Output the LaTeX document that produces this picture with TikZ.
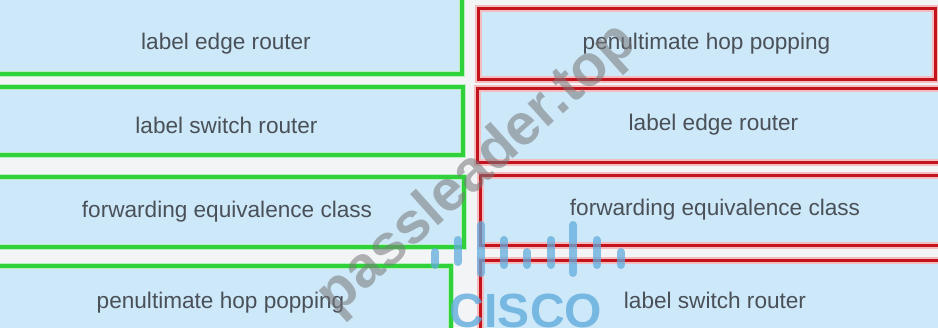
\documentclass[tikz,border=0pt]{standalone}
\usepackage{fontspec}
\setmainfont{Liberation Sans}
\usetikzlibrary{positioning}

\definecolor{boxblue}{HTML}{CDE8F8}
\definecolor{okgreen}{HTML}{30D23B}
\definecolor{halogreen}{HTML}{B8EFBE}
\definecolor{badred}{HTML}{C3141D}
\definecolor{halored}{HTML}{F3BDBF}
\definecolor{txtgray}{HTML}{4A5058}
\definecolor{ciscoblue}{HTML}{62ACDD}
\definecolor{gapgray}{HTML}{F2F4F5}

\begin{document}
\begin{tikzpicture}[x=1pt, y=-1pt,
	answer/.style={rectangle, inner sep=0pt, fill=boxblue, text=txtgray, font=\fontsize{22.6}{26}\selectfont},
	goodbox/.style={answer, postaction={draw=halogreen, line width=5.5pt}, postaction={draw=okgreen, line width=3.4pt}},
	badbox/.style={answer, postaction={draw=halored, line width=7pt}, postaction={draw=badred, line width=3pt}},
	ciscobar/.style={ciscoblue, opacity=0.75, line width=8pt, line cap=round}]
\useasboundingbox (0,0) rectangle (938,327);
\clip (0,0) rectangle (938,327);
\fill[gapgray] (0,0) rectangle (938,327);

% left column (green)
\node[goodbox, minimum width=472pt, minimum height=78pt, text height=33pt] (lft1) at (226,35) {label edge router};
\node[goodbox, minimum width=473pt, minimum height=68pt, text height=25pt] (lft2) at (226.5,121) {label switch router};
\node[goodbox, minimum width=474pt, minimum height=70pt] (lft3) at (227,212) {forwarding equivalence class};
\node[goodbox, minimum width=461pt, minimum height=74pt] (lft4) at (220.5,303) {penultimate hop popping};

% right column (red)
\node[badbox, minimum width=457pt, minimum height=71pt] (rgt1) at (706.5,43.5) {penultimate hop popping};
\node[badbox, minimum width=473pt, minimum height=74pt] (rgt2) at (713.5,125) {label edge router};
\node[badbox, minimum width=470pt, minimum height=70pt] (rgt3) at (715,210) {forwarding equivalence class};
\node[badbox, minimum width=470pt, minimum height=80pt] (rgt4) at (715,300) {label switch router};

% watermark
\node[rotate=41.8, text=gray!85!txtgray, opacity=0.55, font=\bfseries\fontsize{58}{60}\selectfont] (wmark) at (478,170) {passleader.top};
\foreach \bx/\btop/\bbot in {435/252/265, 458/240/262, 481/225/273, 504/240/265, 527/252/265, 551/240/265, 573/225/273, 597/240/265, 621/252/265}
	\draw[ciscobar] (\bx,\btop) -- (\bx,\bbot);
\node[anchor=base, text=ciscoblue, opacity=0.8, font=\bfseries\fontsize{48}{50}\selectfont] (cisco) at (526,327) {CISCO};

\end{tikzpicture}
\end{document}
